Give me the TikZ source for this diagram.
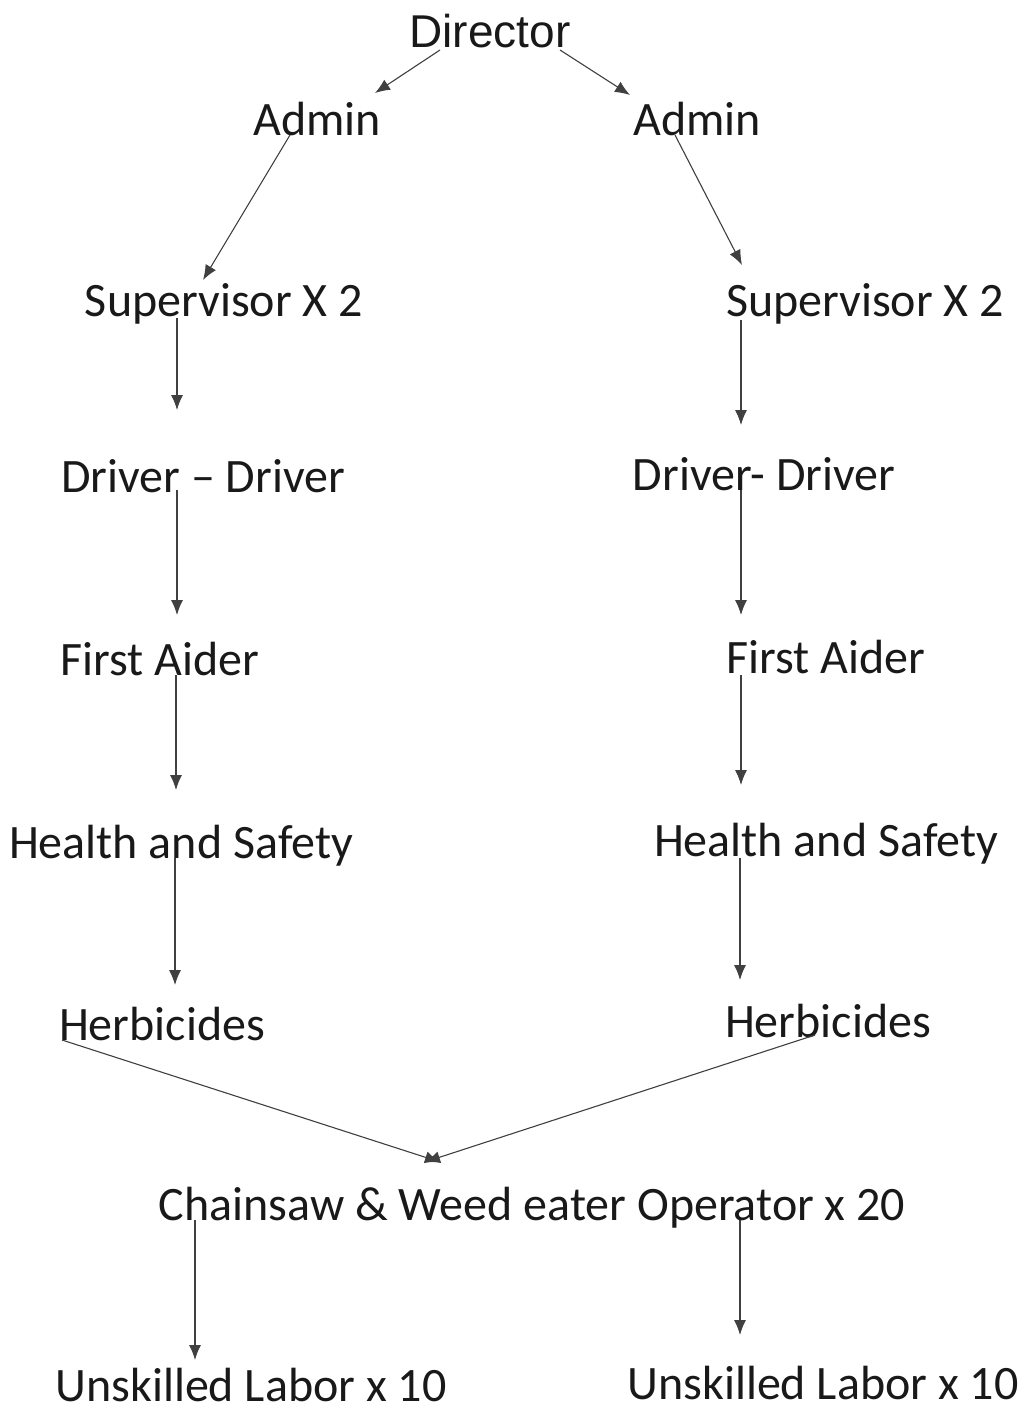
\documentclass[tikz,border=0pt]{standalone}
\usepackage{fontspec}
\setmainfont{Carlito}
\newfontfamily\arialfont{Liberation Sans}
\usetikzlibrary{calc,arrows.meta}
\begin{document}
\begin{tikzpicture}[x=1pt,y=-1pt,
  lbl/.style={anchor=base,inner sep=0pt,font=\fontsize{48}{54}\selectfont,text=black!90},
  arr/.style={draw=black!75,line width=1.1pt,-{Latex[length=15pt,width=12pt]}}]
\useasboundingbox[fill=white] (0,0) rectangle (1024,1411);
\node[lbl,font=\arialfont\fontsize{46}{52}\selectfont] (dir) at (490,47) {Director};
\node[lbl] (aL) at (317,135) {Admin};
\node[lbl] (aR) at (697,135) {Admin};
\node[lbl] (sL) at (224,316) {Supervisor X 2};
\node[lbl] (sR) at (865,316) {Supervisor X 2};
\node[lbl] (dL) at (203,492) {Driver – Driver};
\node[lbl] (dR) at (764,490) {Driver- Driver};
\node[lbl] (fL) at (160,675) {First Aider};
\node[lbl] (fR) at (826,673) {First Aider};
\node[lbl] (hL) at (181,858) {Health and Safety};
\node[lbl] (hR) at (826,856) {Health and Safety};
\node[lbl] (bL) at (162,1040) {Herbicides};
\node[lbl] (bR) at (828,1037) {Herbicides};
\node[lbl] (c) at (532,1220) {Chainsaw \& Weed eater Operator x 20};
\node[lbl] (uL) at (251,1401) {Unskilled Labor x 10};
\node[lbl] (uR) at (823,1399) {Unskilled Labor x 10};
\draw[arr] ($(dir.base)+(-50,3)$) -- ($(aL.base)+(58,-42)$);
\draw[arr] ($(dir.base)+(70,3)$) -- ($(aR.base)+(-67,-40)$);
\draw[arr] ($(aL.base)+(-27,0)$) -- ($(sL.base)+(-21,-36)$);
\draw[arr] ($(aR.base)+(-22,0)$) -- ($(sR.base)+(-123,-51)$);
\draw[arr] ($(sL.base)+(-47,2)$) -- ($(dL.base)+(-26,-82)$);
\draw[arr] ($(sR.base)+(-124,4)$) -- ($(dR.base)+(-23,-65)$);
\draw[arr] ($(dL.base)+(-26,-2)$) -- ($(fL.base)+(17,-60)$);
\draw[arr] ($(dR.base)+(-23,0)$) -- ($(fR.base)+(-85,-58)$);
\draw[arr] ($(fL.base)+(16,0)$) -- ($(hL.base)+(-5,-68)$);
\draw[arr] ($(fR.base)+(-85,2)$) -- ($(hR.base)+(-85,-71)$);
\draw[arr] ($(hL.base)+(-6,0)$) -- ($(bL.base)+(13,-55)$);
\draw[arr] ($(hR.base)+(-86,2)$) -- ($(bR.base)+(-88,-57)$);
\draw[arr] ($(bL.base)+(-100,0)$) -- ($(c.base)+(-92,-58)$);
\draw[arr] ($(bR.base)+(-13,-2)$) -- ($(c.base)+(-107,-58)$);
\draw[arr] ($(c.base)+(-337,0)$) -- ($(uL.base)+(-56,-41)$);
\draw[arr] ($(c.base)+(208,0)$) -- ($(uR.base)+(-83,-64)$);
\end{tikzpicture}
\end{document}
